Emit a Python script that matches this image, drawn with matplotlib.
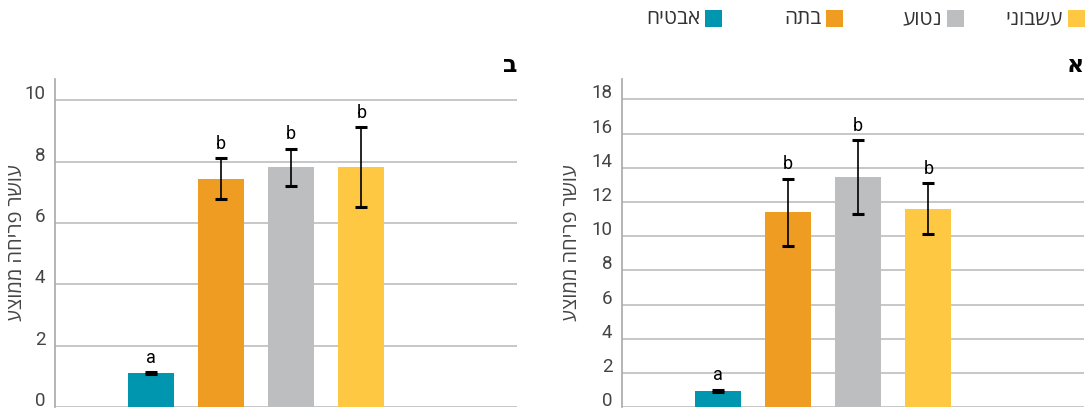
import matplotlib
matplotlib.use("Agg")
import matplotlib.pyplot as plt
import matplotlib.transforms as mtransforms
import numpy as np
from matplotlib.patches import Rectangle


FONT = ["Roboto", "Open Sans", "DejaVu Sans"]
INK = "#444444"
GRID = "#BDBDBD"
SPINE = "#A8A8A8"

# categories (logical Hebrew order) and colours
categories = ["אבטיח", "בתה", "נטוע", "עשבוני"]
colors = ["#0096B0", "#EE9C22", "#BDBEC0", "#FEC842"]

# panel א (right)
mean_a = [0.95, 11.4, 13.45, 11.6]
err_a = [0.05, 1.95, 2.15, 1.5]
letters_a = ["a", "b", "b", "b"]
ticks_a = [0, 2, 4, 6, 8, 10, 12, 14, 16, 18]

# panel ב (left)
mean_b = [1.1, 7.45, 7.82, 7.82]
err_b = [0.03, 0.67, 0.6, 1.3]
letters_b = ["a", "b", "b", "b"]
ticks_b = [0, 2, 4, 6, 8, 10]

Y_LABEL = "עושר פריחה ממוצע"


def rtl(text):
    return text[::-1]


def draw_panel(figure, axes, means, errors, letters, ticks, ymax, title, label_x):
    x = np.arange(len(means))
    axes.bar(x, means, width=0.66, color=colors, zorder=3)
    axes.errorbar(x, means, yerr=errors, fmt="none", ecolor="black",
                  elinewidth=1.2, capsize=4.5, capthick=2.2, zorder=4)
    for xi, m, e, letter in zip(x, means, errors, letters):
        axes.annotate(letter, xy=(xi, m + e), xytext=(0, 4),
                      textcoords="offset points", ha="center", va="bottom",
                      fontsize=13, color="black", family=FONT)

    axes.set_xlim(-1.37, 5.22)
    axes.set_ylim(0, ymax)
    axes.set_yticks(ticks)
    axes.set_xticks([])
    axes.grid(axis="y", color=GRID, linewidth=1.2, zorder=0)
    for side in ["top", "right", "bottom"]:
        axes.spines[side].set_visible(False)
    axes.spines["left"].set_color(SPINE)
    axes.spines["left"].set_linewidth(1.2)
    axes.tick_params(axis="y", length=0, pad=7, labelsize=13.5, labelcolor=INK)
    lift = mtransforms.ScaledTranslation(0, 8 / 100, figure.dpi_scale_trans)
    for tick in axes.get_yticklabels():
        tick.set_family(FONT)
        tick.set_transform(tick.get_transform() + lift)
    axes.set_ylabel(rtl(Y_LABEL), fontsize=14.5, color=INK, family=FONT)
    axes.yaxis.set_label_coords(label_x, 0.5)
    axes.text(1.0, 1.005, title, transform=axes.transAxes, ha="right",
              va="bottom", fontsize=17, fontweight="bold", color="black",
              family=FONT)


figure = plt.figure(figsize=(10.92, 4.09), dpi=100)
figure.patch.set_facecolor("white")

ax_b = figure.add_axes([55 / 1092, 2 / 409, 462 / 1092, 328 / 409])
ax_a = figure.add_axes([622 / 1092, 2 / 409, 462 / 1092, 328 / 409])

draw_panel(figure, ax_b, mean_b, err_b, letters_b, ticks_b, 10.7, "ב", -0.062)
draw_panel(figure, ax_a, mean_a, err_a, letters_a, ticks_a, 19.2, "א", -0.09)

# legend, right-to-left: square on the right of each label
W, H = 1092, 409
slot = 121
right_edge = 1085
for i, (name, color) in enumerate(zip(categories, colors)):
    sq_right = right_edge - slot * (len(categories) - 1 - i)
    sq = 17
    figure.patches.append(Rectangle(((sq_right - sq) / W, (H - 27) / H), sq / W, sq / H,
                                    transform=figure.transFigure, facecolor=color,
                                    edgecolor="none"))
    figure.text((sq_right - sq - 5) / W, (H - 19) / H, rtl(name), ha="right",
                va="center", fontsize=15, color="#333333", family=FONT)

figure.savefig("out.png", dpi=100, facecolor="white")
